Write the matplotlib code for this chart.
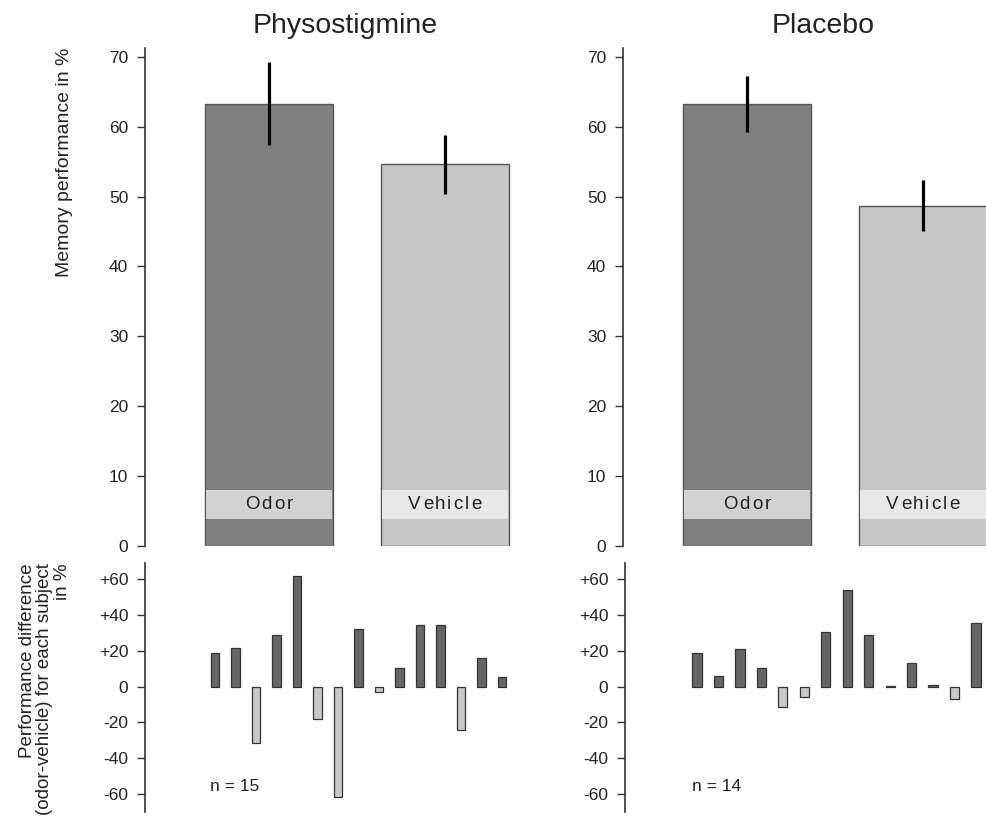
import numpy as np
import matplotlib
matplotlib.use("Agg")
import matplotlib.pyplot as plt
from matplotlib.patches import Rectangle
from matplotlib.font_manager import FontProperties

plt.rcParams['font.family'] = ['Liberation Sans', 'DejaVu Sans']

# group means and error bars (top panels)
groups = ['Physostigmine', 'Placebo']
conditions = ['Odor', 'Vehicle']
means = {'Physostigmine': [63.3, 54.6], 'Placebo': [63.3, 48.7]}
errors = {'Physostigmine': [5.9, 4.2], 'Placebo': [4.0, 3.65]}

# per-subject differences odor - vehicle (bottom panels)
diff_physo = [18.6, 21.4, -31.7, 28.9, 61.9, -18.1, -61.5, 32.2, -3.2, 10.2, 34.3, 34.3, -24.2, 16.0, 5.4]
diff_placebo = [19.0, 6.1, 21.2, 10.6, -11.2, -5.8, 30.4, 53.7, 28.7, 0.3, 13.0, 0.8, -7.1, 35.4]
diffs = {'Physostigmine': diff_physo, 'Placebo': diff_placebo}

top_ticks = [0, 10, 20, 30, 40, 50, 60, 70]
bottom_ticks = [60, 40, 20, 0, -20, -40, -60]
bottom_ticklabels = ['+60', '+40', '+20', '0', '-20', '-40', '-60']

bar_colors = ['#808080', '#c5c6c5']
band_colors = ['#d2d2d2', '#e8e8e8']
pos_color = '#666666'
neg_color = '#c8c8c8'
ink = '#222222'

W, H = 987, 816
fig = plt.figure(figsize=(W / 100, H / 100), dpi=100)
renderer = fig.canvas.get_renderer()


def px_axes(x0, y_top, y_bot, width):
    return fig.add_axes([x0 / W, 1 - y_bot / H, width / W, (y_bot - y_top) / H])


def style(ax):
    for s in ['top', 'right', 'bottom']:
        ax.spines[s].set_visible(False)
    ax.spines['left'].set_color('#333333')
    ax.spines['left'].set_linewidth(1.2)
    ax.tick_params(axis='y', direction='out', length=6, width=1, color='#333333',
                   labelsize=12.5, labelcolor=ink, pad=6)
    ax.set_xticks([])
    ax.patch.set_visible(False)


def tracked_text(ax, x, y, word, size, track_px):
    # draw a word with extra letter spacing, centred on (x, y)
    fp = FontProperties(family='Liberation Sans', size=size)
    widths = [renderer.get_text_width_height_descent(word[:k], fp, ismath=False)[0]
              for k in range(len(word) + 1)]
    total = widths[-1] + track_px * (len(word) - 1)
    for k, ch in enumerate(word):
        off = -total / 2 + widths[k] + track_px * k
        ax.annotate(ch, xy=(x, y), xytext=(off * 72 / 100, 0), textcoords='offset points',
                    ha='left', va='center', fontproperties=fp, color=ink, zorder=4)


top_left = {'Physostigmine': 145, 'Placebo': 623}
bot_left = {'Physostigmine': 145, 'Placebo': 625}
bot_step = {'Physostigmine': 20.5, 'Placebo': 21.46}
bot_offset = {'Physostigmine': 70, 'Placebo': 72}

for g in groups:
    # top panel
    ax = px_axes(top_left[g], 47.7, 546, 400)
    style(ax)
    x = np.arange(len(conditions))
    bw = 128 / 176
    ax.bar(x, means[g], width=bw, color=bar_colors, edgecolor='#555555', linewidth=1.0, zorder=2)
    ax.errorbar(x, means[g], yerr=errors[g], fmt='none', ecolor='black', elinewidth=2.3,
                capsize=0, zorder=3)
    for i, c in enumerate(conditions):
        ax.add_patch(Rectangle((x[i] - bw / 2 + 0.005, 3.9), bw - 0.01, 4.1,
                               facecolor=band_colors[i], edgecolor='none', zorder=2.5))
        tracked_text(ax, x[i], 5.95, c, 13.5, 2.2)
    ax.set_xlim(-124 / 176, -124 / 176 + 400 / 176)
    ax.set_ylim(0, 71.3)
    ax.set_yticks(top_ticks)
    ax.set_title(g, fontsize=20.5, color=ink, pad=10.5)

    # bottom panel
    axb = px_axes(bot_left[g], 563, 812, 400)
    style(axb)
    d = np.array(diffs[g])
    xb = np.arange(len(d))
    cols = [pos_color if v >= 0 else neg_color for v in d]
    axb.bar(xb, d, width=0.43, color=cols, edgecolor='#333333', linewidth=0.9, zorder=2)
    step = bot_step[g]
    left = -bot_offset[g] / step
    axb.set_xlim(left, left + 400 / step)
    axb.set_ylim(-70, 69)
    axb.set_yticks(bottom_ticks)
    axb.set_yticklabels(bottom_ticklabels)
    axb.text(left + (bot_offset[g] - 5) / step, -56, 'n = %d' % len(d), ha='left', va='center',
             fontsize=12.5, color=ink)

fig.text(65 / W, 1 - 48 / H, 'Memory performance in %', rotation=90, ha='center', va='top',
         fontsize=14, color=ink)
fig.text(45 / W, 1 - 563 / H, 'Performance difference\n(odor-vehicle) for each subject\nin %',
         rotation=90, ha='center', va='top', multialignment='right', fontsize=13.5,
         linespacing=1.05, color=ink)

fig.savefig('out.png', dpi=100)
